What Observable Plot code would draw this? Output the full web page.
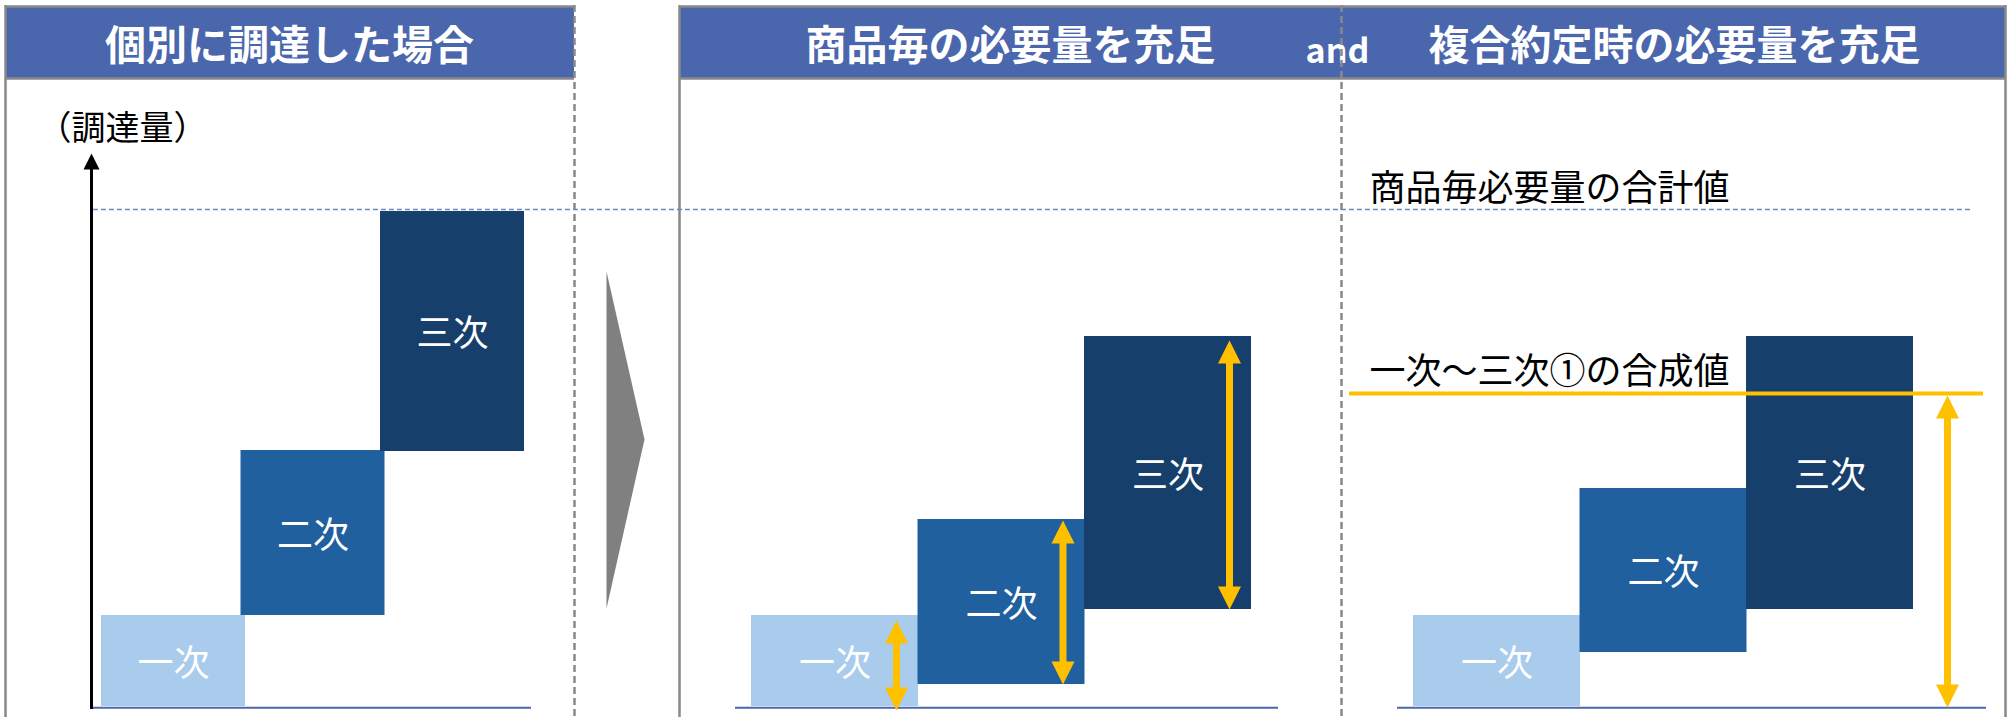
<!DOCTYPE html>
<html>
<head>
<meta charset="utf-8">
<script src="https://cdn.jsdelivr.net/npm/d3@7"></script>
<script src="https://cdn.jsdelivr.net/npm/@observablehq/plot@0.6"></script>
<style>
  html, body { margin: 0; padding: 0; background: #fff; overflow: hidden; }
  #chart svg { display: block; }
</style>
</head>
<body>
<div id="chart"></div>
<script>
// ---------------- data (quantities) ----------------
const stages = ["一次", "二次", "三次"];
const stageColors = ["#A9CBEC", "#21609F", "#163F6B"];

// 個別に調達した場合
const individualLow  = [1, 92, 256];
const individualHigh = [92, 257, 496];
// 商品毎の必要量を充足
const perItemLow  = [1, 23, 98];
const perItemHigh = [92, 188, 371];
const perItemArrowLow  = [-3, 23, 98];
const perItemArrowHigh = [87, 187, 367];
// 複合約定時の必要量を充足
const compositeLow  = [1, 55, 98];
const compositeHigh = [92, 219, 371];
const compositeArrowLow  = [0];
const compositeArrowHigh = [312];

const totalRequired  = 498;  // 商品毎必要量の合計値
const compositeValue = 314;  // 一次～三次①の合成値

const panelTitles = ["個別に調達した場合", "商品毎の必要量を充足", "複合約定時の必要量を充足"];
const joinWord = "and";
const axisLabel = "（調達量）";
const totalLabel = "商品毎必要量の合計値";
const compositeLabel = "一次～三次①の合成値";

// ---------------- layout ----------------
const W = 2009, H = 717, BASE = 707;
const px = t => BASE - t;            // layout pixel (from top) -> y units
const panelBarLeft = [101, 751, 1413];
const panelBarStep = [139.5, 166.5, 166.5];
const panelBarWidth = [144, 167, 167];
const panels = [
  {low: individualLow, high: individualHigh, base: [91, 531]},
  {low: perItemLow, high: perItemHigh, base: [735, 1278]},
  {low: compositeLow, high: compositeHigh, base: [1397, 1986]}
];
const bars = panels.flatMap((p, pi) => stages.map((s, i) => {
  const x1 = panelBarLeft[pi] + i * panelBarStep[pi];
  return {stage: s, color: stageColors[i], x1, x2: x1 + panelBarWidth[pi], y1: p.low[i], y2: p.high[i]};
}));
const baselines = panels.map(p => ({x1: p.base[0], x2: p.base[1]}));

// double-headed arrows
const arrows = [
  ...stages.map((s, i) => ({x: bars[3 + i].x2 - 22, lo: perItemArrowLow[i], hi: perItemArrowHigh[i]})),
  {x: 1947, lo: compositeArrowLow[0], hi: compositeArrowHigh[0]}
];
const HEAD = 23, HALF = 11.5;
const heads = arrows.flatMap((a, k) => [
  {id: "t" + k, x: a.x, y: a.hi}, {id: "t" + k, x: a.x - HALF, y: a.hi - HEAD}, {id: "t" + k, x: a.x + HALF, y: a.hi - HEAD},
  {id: "b" + k, x: a.x, y: a.lo}, {id: "b" + k, x: a.x - HALF, y: a.lo + HEAD}, {id: "b" + k, x: a.x + HALF, y: a.lo + HEAD}
]);

// frame
const headerBoxes = [{x1: 5, x2: 574}, {x1: 679, x2: 2005}];
const frameH = [
  {x1: 5, x2: 574, y: 6}, {x1: 5, x2: 574, y: 78},
  {x1: 679, x2: 2005, y: 6}, {x1: 679, x2: 2005, y: 78}
];
const frameV = [{x: 5}, {x: 679}, {x: 2005}];
const dividers = [{x: 574}, {x: 1341}];

const yArrowX = 91;
const yArrowHead = [{x: yArrowX, y: px(153)}, {x: yArrowX - 8, y: px(169)}, {x: yArrowX + 8, y: px(169)}];
const chevron = [{x: 606, y: px(271)}, {x: 644, y: px(439)}, {x: 606, y: px(608)}];

const titleMarks = [
  {text: panelTitles[0], x: 289}, {text: panelTitles[1], x: 1010}, {text: panelTitles[2], x: 1674}
];

const GRAY = "#898989", ORANGE = "#FFC000", HEADER = "#4A66AC", LINEBLUE = "#4A67AD";

const chart = Plot.plot({
  width: W, height: H, margin: 0,
  x: {domain: [0, W], axis: null},
  y: {domain: [px(H), BASE], axis: null},
  color: {type: "identity"},
  style: {fontFamily: "'Noto Sans CJK JP', 'Noto Sans', sans-serif", background: "white"},
  marks: [
    // header fills
    Plot.rect(headerBoxes, {x1: "x1", x2: "x2", y1: px(78), y2: px(6), fill: HEADER}),
    // frame
    Plot.ruleY(frameH, {y: d => px(d.y), x1: "x1", x2: "x2", stroke: GRAY, strokeWidth: 2.5}),
    Plot.ruleX(frameV, {x: "x", y1: px(5), y2: px(720), stroke: GRAY, strokeWidth: 2.5}),
    // header titles
    Plot.text(titleMarks, {x: "x", y: px(59), text: "text", lineAnchor: "bottom", fill: "white", fontSize: 41, fontWeight: "bold"}),
    Plot.text([joinWord], {x: 1337, y: px(62), text: d => d, lineAnchor: "bottom", fill: "white", fontSize: 34, fontWeight: "bold"}),
    // dashed dividers
    Plot.ruleX(dividers, {x: "x", y1: px(5), y2: px(720), stroke: GRAY, strokeWidth: 2.5, strokeDasharray: "7,4"}),
    // total required dashed line
    Plot.ruleY([totalRequired], {x1: 93, x2: 1970, stroke: "#6E86C2", strokeWidth: 1.5, strokeDasharray: "5,3"}),
    // bars
    Plot.rect(bars, {x1: "x1", x2: "x2", y1: "y1", y2: "y2", fill: "color"}),
    Plot.text(bars, {x: d => (d.x1 + d.x2) / 2, y: d => (d.y1 + d.y2) / 2, text: "stage", fill: "white", fontSize: 36, dy: 3}),
    // baselines
    Plot.ruleY(baselines, {y: -0.3, x1: "x1", x2: "x2", stroke: LINEBLUE, strokeWidth: 2}),
    // y axis arrow
    Plot.ruleX([yArrowX], {y1: px(709), y2: px(166), stroke: "black", strokeWidth: 3}),
    Plot.line(yArrowHead, {x: "x", y: "y", fill: "black", stroke: "none"}),
    Plot.text([axisLabel], {x: 122, y: px(139), text: d => d, lineAnchor: "bottom", fill: "black", fontSize: 34}),
    // chevron
    Plot.line(chevron, {x: "x", y: "y", fill: "#808080", stroke: "none"}),
    // composite value line
    Plot.ruleY([compositeValue], {x1: 1349, x2: 1983, stroke: ORANGE, strokeWidth: 4}),
    // arrows
    Plot.ruleX(arrows, {x: "x", y1: d => d.lo + 20, y2: d => d.hi - 20, stroke: ORANGE, strokeWidth: 7}),
    Plot.line(heads, {x: "x", y: "y", z: "id", fill: ORANGE, stroke: "none"}),
    // annotations
    Plot.text([totalLabel], {x: 1369, y: px(200), text: d => d, textAnchor: "start", lineAnchor: "bottom", fill: "black", fontSize: 36}),
    Plot.text([compositeLabel], {x: 1369, y: px(383), text: d => d, textAnchor: "start", lineAnchor: "bottom", fill: "black", fontSize: 36})
  ]
});
document.getElementById("chart").appendChild(chart);
</script>
</body>
</html>
